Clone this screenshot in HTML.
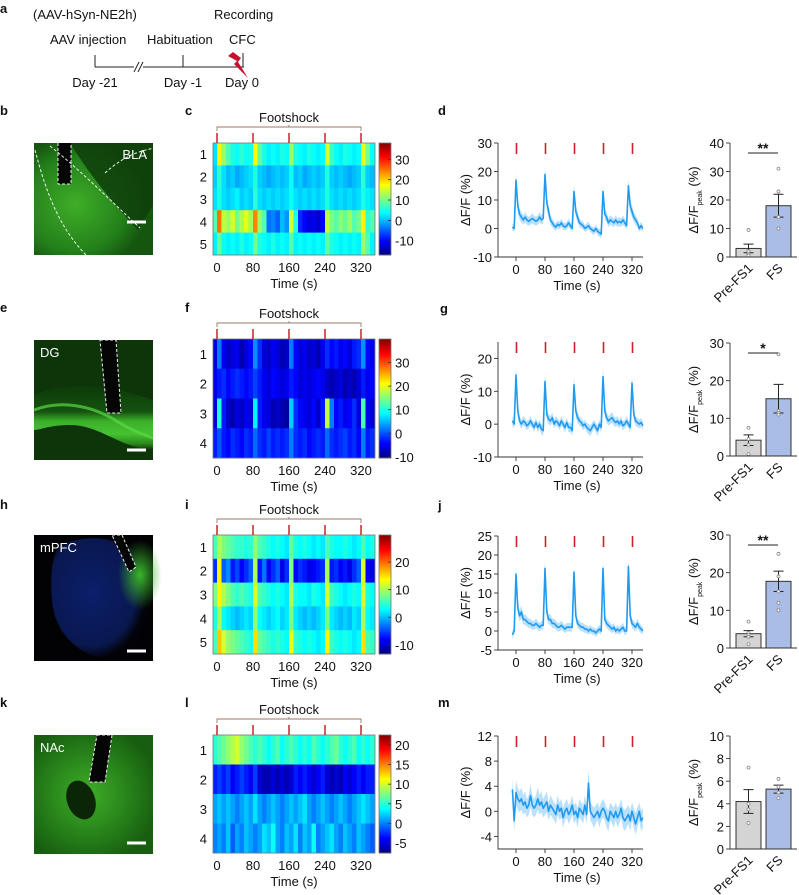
<!DOCTYPE html>
<html><head><meta charset="utf-8"><title>NE2h recordings during CFC</title>
<style>
html,body{margin:0;padding:0;background:#fff;}
svg{display:block;font-family:"Liberation Sans",Arial,sans-serif;}
</style></head>
<body>
<svg id="fig" width="799" height="895" viewBox="0 0 799 895" xmlns="http://www.w3.org/2000/svg">
<defs>
<radialGradient id="gB" cx="0.35" cy="0.55" r="0.6"><stop offset="0" stop-color="#3fae28"/><stop offset="0.7" stop-color="#23801a"/><stop offset="1" stop-color="#15560f"/></radialGradient>
<linearGradient id="gE" x1="0" y1="0" x2="0" y2="1"><stop offset="0" stop-color="#0c3a09"/><stop offset="0.4" stop-color="#15520f"/><stop offset="0.55" stop-color="#3bb02a"/><stop offset="0.75" stop-color="#46c232"/><stop offset="0.9" stop-color="#2b8a1c"/><stop offset="1" stop-color="#0d2f08"/></linearGradient>
<radialGradient id="gH" cx="0.4" cy="0.45" r="0.55"><stop offset="0" stop-color="#0b1e6a"/><stop offset="0.8" stop-color="#0a1850"/><stop offset="1" stop-color="#020208"/></radialGradient>
<radialGradient id="gHg" cx="0.5" cy="0.5" r="0.5"><stop offset="0" stop-color="#3ab52a"/><stop offset="1" stop-color="#3ab52a" stop-opacity="0"/></radialGradient>
<radialGradient id="gK" cx="0.45" cy="0.5" r="0.6"><stop offset="0" stop-color="#3fae28"/><stop offset="0.45" stop-color="#2c8c1d"/><stop offset="1" stop-color="#175e10"/></radialGradient>
</defs>
<g id="panelA" font-size="13" fill="#111">
<text x="0" y="13" font-weight="bold" font-size="13">a</text>
<text x="33" y="19">(AAV-hSyn-NE2h)</text>
<text x="214" y="19">Recording</text>
<text x="50" y="44">AAV injection</text>
<text x="147" y="44">Habituation</text>
<text x="229" y="44">CFC</text>
<line x1="95" y1="67" x2="244" y2="67" stroke="#222" stroke-width="1"/>
<line x1="95" y1="55" x2="95" y2="67" stroke="#222"/>
<line x1="183" y1="55" x2="183" y2="67" stroke="#222"/>
<line x1="243" y1="53" x2="243" y2="67" stroke="#222"/>
<rect x="134" y="62" width="9" height="10" fill="#fff"/>
<line x1="134" y1="72" x2="139" y2="62" stroke="#222"/>
<line x1="138" y1="72" x2="143" y2="62" stroke="#222"/>
<text x="95" y="87" text-anchor="middle">Day -21</text>
<text x="183" y="87" text-anchor="middle">Day -1</text>
<text x="242" y="87" text-anchor="middle">Day 0</text>
<polygon points="233,52 241,58 238,62 248,78 234,64 237,61 228,56" fill="#c8102e"/>
</g>
<g id="content"></g>
</svg>
<script>
// ---------- data ----------
var heatTimes = [0, 80, 160, 240, 320];
var timeTicks = [0, 80, 160, 240, 320];
var heatBinStart = -10, heatBinSize = 10;
// row c (BLA)
var c1 = [2,18,12,8,5,4,6,4,5,17,9,5,3,4,3,5,4,12,5,4,3,5,4,3,4,15,7,4,3,5,4,3,4,16,10,4];
var c2 = [1,6,2,0,1,-1,0,1,2,5,1,0,-1,0,1,0,1,4,0,1,-1,0,1,0,1,5,1,0,1,0,-1,0,1,6,1,0];
var c3 = [2,5,2,1,2,3,1,2,1,6,2,1,2,1,2,1,2,4,2,1,2,1,2,1,2,5,2,1,2,1,2,1,2,5,3,2];
var c4 = [8,25,14,12,15,10,13,16,12,24,12,8,-4,-3,-5,0,-2,15,5,-8,-10,-12,-11,-13,-10,14,10,8,11,9,12,8,10,18,6,8];
var c5 = [3,9,4,3,4,3,5,3,4,10,5,4,3,5,3,4,3,8,3,4,3,4,3,4,3,9,5,4,3,4,3,4,3,12,8,3];
var cTicks = [30,20,10,0,-10];
// row f (DG)
var f1 = [-6,2,-5,-7,-6,-5,-8,-6,-4,3,-2,-6,-7,-5,-6,-8,-7,2,-4,-6,-5,-7,-6,-8,-5,-2,-4,-3,-5,-4,-6,-3,-2,3,-4,-5];
var f2 = [-5,-3,-2,-4,-3,-2,-3,-4,-3,-1,-3,-5,-6,-4,-5,-6,-5,-3,-4,-6,-5,-6,-5,-4,-5,-7,-8,-7,-6,-8,-7,-8,-6,-3,-5,-4];
var f3 = [-6,10,-3,-7,-8,-6,-7,-5,-6,8,-3,-5,-6,-8,-7,-8,-9,6,-2,-4,-5,-6,-4,-7,-3,18,2,-4,-3,-5,-4,-2,-6,12,-5,-6];
var f4 = [-3,0,-3,-4,-2,-3,-4,-2,-3,1,-2,-3,-1,-3,-2,-3,-2,2,-2,-3,-2,-4,-3,-2,-3,1,-2,-3,-2,-1,-3,-2,-4,2,-3,-2];
var fTicks = [30,20,10,0,-10];
// row i (mPFC)
var i1 = [6,10,8,7,6,5,5,4,5,9,6,5,4,3,4,3,2,7,4,3,4,3,2,3,2,6,4,3,3,4,3,2,3,6,3,4];
var i2 = [-6,14,-4,-2,-7,-5,-8,-6,-4,10,-7,-3,-8,-6,-4,-9,-6,8,-8,-6,-7,-9,-8,-7,-6,10,-7,-6,-8,-7,-9,-6,-4,12,-8,-9];
var i3 = [8,14,10,8,6,5,6,5,4,12,6,5,4,3,4,3,2,10,4,3,3,2,4,3,2,12,5,4,3,2,3,4,3,12,4,3];
var i4 = [4,10,3,2,1,0,1,2,1,9,3,2,1,2,3,1,2,8,2,1,0,1,0,1,2,8,2,1,0,1,0,2,1,10,3,2];
var i5 = [6,16,12,9,8,7,6,5,4,15,7,6,5,4,5,4,3,13,5,4,3,4,3,2,3,14,5,4,3,4,3,2,3,15,6,5];
var iTicks = [20,10,0,-10];
// row l (NAc)
var l1 = [5,6,7,8,9,10,8,7,6,5,6,5,4,5,6,4,5,6,5,4,5,4,6,5,4,5,6,7,5,4,5,6,4,5,4,5];
var l2 = [-3,-2,-3,-2,-4,-3,-2,-3,-4,-2,-5,-6,-6,-5,-6,-5,-6,-5,-3,-4,-3,-4,-5,-4,-3,-5,-6,-5,-6,-4,-5,-4,-3,-4,-3,-3];
var l3 = [1,2,1,2,1,0,1,2,1,3,1,0,1,2,1,0,1,2,1,2,3,1,0,1,2,1,0,1,2,1,0,1,2,3,2,1];
var l4 = [0,1,0,2,-1,1,0,2,1,0,1,3,2,4,1,0,2,1,3,0,2,1,4,0,1,2,3,1,0,2,1,0,2,1,0,-1];
var lTicks = [20,15,10,5,0,-5];

// traces (t = -10..350 step 5)
var traceStart = -10, traceStep = 5;
var traceD = [0.5,0,17,8,5,4,3,4,3,2.5,3,3.5,3,2.5,3,4,3,3.5,19,9,6,3,2,1,0.5,1.5,1,2,1,0.5,1,2,1,0,13,6,4,2,1.5,1,0,0.5,1,0,-0.5,-1,0,-1,-1.5,-2,13,5,4,2,3,2.5,2,3,2,2.5,2,3,2,1,15,8,6,4,3,2,0,1,0];
var traceG = [1,0,15,4,1,0,1,0.5,-0.5,0,1,0,-1,0.5,-1,0,-1.5,-2,13,3,1.5,1,2,0,1,0.5,-0.5,1,0,-1,0.5,-1,-1,-2,12,4,2,1,0.5,-0.5,0,-1,-1.5,-2,-1,0,-1,-2,0,-1,14.5,4,2,1,1.5,2,1,0.5,1,0,1,-0.5,0,1,0,-1,12.5,3,1,0.5,0,0.5,-0.5];
var traceJ = [-1,0,15,6,4,5,3,3,2.5,2,2,1.5,1.5,2,1.5,1,1.5,1.5,16.5,5,3,3,2,2,1.5,1,1,1.5,1,0.5,1,1,1,1,15.5,4,2,1.5,1,1,0.5,0.5,0,0.5,0,0,-0.5,0,0.5,0,16.5,3,2,1.5,1,0.5,1,0,0.5,0,0.5,1,0,0,17,4,2,1.5,1,2,1,0.5,0];
var traceM = [3.5,-1.5,3,2,1.5,2,1,1.5,0.5,1,2.5,1,0.5,1,2,1,1.5,0.5,1,1.5,0,1,0.5,0,-0.5,1,0,0.5,-1,0,0.5,-0.5,0,1,-0.5,0,-1,0.5,0,-0.5,1,-0.5,4.5,0,-0.5,-1,-0.5,0,-1,0,0.5,0,-1,-1.5,0,-0.5,-1,0,-1,-0.5,0.5,-1,-1.5,-1,-0.5,-1.5,0,-1,-2,-1,0,-1.5,-1];
var bandD = 1.2, bandG = 1.3, bandJ = 1.0, bandM = 1.4;

// bar values
var barCats = ['Pre-FS1','FS'];
var barMeanB = [3, 18], barSemB = [1.5, 4], ptsPreB = [9.5,2,1,0.5,2], ptsFsB = [31,23,14,10,10];
var barMeanE = [4.2, 15.2], barSemE = [1.4, 3.8], ptsPreE = [7.5,4.5,0.5,3], ptsFsE = [27,12,11.5,11];
var barMeanH = [3.8, 17.7], barSemH = [0.8, 2.7], ptsPreH = [7,4,3.5,3,1], ptsFsH = [25,19,15,12,10];
var barMeanK = [4.2, 5.3], barSemK = [1.05, 0.35], ptsPreK = [7.2,4,2.3,3.5], ptsFsK = [6.2,5.5,5,4.5];

// ---------- drawing ----------
var NS = 'http://www.w3.org/2000/svg';
var root = document.getElementById('content');
function el(tag, attrs, parent) {
  var e = document.createElementNS(NS, tag);
  for (var k in attrs) e.setAttribute(k, attrs[k]);
  (parent || root).appendChild(e);
  return e;
}
function txt(s, x, y, attrs, parent) {
  var e = el('text', attrs || {}, parent);
  e.setAttribute('x', x); e.setAttribute('y', y);
  e.textContent = s;
  return e;
}
function cl(v){return Math.max(0, Math.min(1, v));}
function jet(v) {
  var r = cl(1.5 - Math.abs(4*v - 3)), g = cl(1.5 - Math.abs(4*v - 2)), b = cl(1.5 - Math.abs(4*v - 1));
  return 'rgb(' + Math.round(r*255) + ',' + Math.round(g*255) + ',' + Math.round(b*255) + ')';
}

function panelLabel(s, x, y) {
  var t = txt(s, x, y, {'font-size': '13', 'font-weight': 'bold', fill: '#111'});
  
  
}

// heatmap
var hx0 = 213, hx1 = 375, hxs = 0.45, hxZero = 217;
function hx(t){ return hxZero + t * hxs; }
function heatmap(id, rows, top, bot, vmin, vmax, ticks) {
  var g = el('g', {});
  
  
  var rh = (bot - top) / rows.length;
  rows.forEach(function(row, r) {
    row.forEach(function(v, b) {
      var t0 = heatBinStart + b * heatBinSize;
      var x0 = Math.max(hx0, hx(t0)), x1 = Math.min(hx1, hx(t0 + heatBinSize));
      var c = el('rect', {x: x0, y: top + r*rh, width: x1 - x0 + 0.4, height: rh + 0.4, fill: jet((v - vmin)/(vmax - vmin))}, g);
      
      
    });
    var lab = txt(String(r+1), 207, top + (r+0.5)*rh + 5, {'font-size': '13', 'text-anchor': 'end', fill: '#111'}, g);
    
    
  });
  el('rect', {x: hx0, y: top, width: hx1 - hx0, height: bot - top, fill: 'none', stroke: '#777', 'stroke-width': '0.8'}, g);
  timeTicks.forEach(function(t) {
    var l = txt(String(t), hx(t), bot + 17, {'font-size': '13', 'text-anchor': 'middle', fill: '#111'}, g);
    
    
  });
  var xt = txt('Time (s)', 294, bot + 33, {'font-size': '13', 'text-anchor': 'middle', fill: '#111'}, g);
  
  
  var by = top - 16;
  el('path', {d: 'M' + hx(0) + ' ' + (by+4) + ' V' + by + ' H' + hx(320) + ' V' + (by+4) + ' M' + hx(160) + ' ' + by + ' v-2', fill: 'none', stroke: '#9a7a6a', 'stroke-width': '0.9'}, g);
  var ft = txt('Footshock', hx(160), by - 5, {'font-size': '13', 'text-anchor': 'middle', fill: '#111'}, g);
  
  
  heatTimes.forEach(function(t) {
    var m = el('line', {x1: hx(t), x2: hx(t), y1: top - 10, y2: top, stroke: '#d0202a', 'stroke-width': '1.5'}, g);
    
    
  });
  var cb = el('g', {}, g);
  
  
  var n = 60, ch = (bot - top) / n;
  for (var k = 0; k < n; k++) {
    el('rect', {x: 379, y: top + k*ch, width: 12, height: ch + 0.4, fill: jet(1 - (k + 0.5)/n)}, cb);
  }
  el('rect', {x: 379, y: top, width: 12, height: bot - top, fill: 'none', stroke: '#777', 'stroke-width': '0.8'}, cb);
  ticks.forEach(function(v) {
    var y = top + (vmax - v) / (vmax - vmin) * (bot - top);
    el('line', {x1: 388, x2: 391, y1: y, y2: y, stroke: '#333', 'stroke-width': '0.8'}, cb);
    var l = txt(String(v), 395, y + 5, {'font-size': '13', fill: '#111'}, cb);
    
    
  });
}

// line chart
var lxZero = 516, lxs = 0.3625;
function lx(t){ return lxZero + t * lxs; }
function lineChart(id, data, band, top, bot, ymin, ymax, ticks) {
  var g = el('g', {});
  
  
  function ly(v){ return bot - (v - ymin) / (ymax - ymin) * (bot - top); }
  var up = [], dn = [], mid = [];
  data.forEach(function(v, i) {
    var t = traceStart + i * traceStep;
    var w = band * (1 + Math.min(1, Math.abs(v) / 8));
    up.push(lx(t).toFixed(1) + ',' + ly(v + w).toFixed(1));
    dn.unshift(lx(t).toFixed(1) + ',' + ly(v - w).toFixed(1));
    mid.push(lx(t).toFixed(1) + ',' + ly(v).toFixed(1));
  });
  var bd = el('polygon', {points: up.concat(dn).join(' '), fill: '#a9d8fb', opacity: '0.8'}, g);
  
  
  var ln = el('polyline', {points: mid.join(' '), fill: 'none', stroke: '#1e9bf0', 'stroke-width': '1.6', 'stroke-linejoin': 'round'}, g);
  
  
  var ax = el('path', {d: 'M498 ' + top + ' V' + bot + ' H643', fill: 'none', stroke: '#333', 'stroke-width': '0.9'}, g);
  
  
  ticks.forEach(function(v) {
    var y = ly(v);
    el('line', {x1: 494, x2: 498, y1: y, y2: y, stroke: '#333', 'stroke-width': '0.9'}, g);
    var l = txt(String(v), 492, y + 5, {'font-size': '13', 'text-anchor': 'end', fill: '#111'}, g);
    
    
  });
  timeTicks.forEach(function(t) {
    el('line', {x1: lx(t), x2: lx(t), y1: bot, y2: bot + 4, stroke: '#333', 'stroke-width': '0.9'}, g);
    var l = txt(String(t), lx(t), bot + 17, {'font-size': '13', 'text-anchor': 'middle', fill: '#111'}, g);
    
    
  });
  var xt = txt('Time (s)', 577, bot + 33, {'font-size': '13', 'text-anchor': 'middle', fill: '#111'}, g);
  
  
  var yt = txt('\u0394F/F (%)', 0, 0, {'font-size': '13', 'text-anchor': 'middle', fill: '#111', transform: 'translate(470,' + ((top+bot)/2) + ') rotate(-90)'}, g);
  
  
  heatTimes.forEach(function(t) {
    var m = el('line', {x1: lx(t) + 0.5, x2: lx(t) + 0.5, y1: top, y2: top + 11, stroke: '#d0202a', 'stroke-width': '1.6'}, g);
    
    
  });
}

// bar chart
var bAxisX = 730;
function barChart(id, means, sems, pre, fs, top, bot, ymax, step, sig) {
  var g = el('g', {});
  
  
  function by(v){ return bot - v / ymax * (bot - top); }
  var xs = [736, 766], bw = 25, fills = ['#d4d4d4', '#aabde6'];
  means.forEach(function(m, i) {
    var r = el('rect', {x: xs[i], y: by(m), width: bw, height: bot - by(m), fill: fills[i], stroke: '#333', 'stroke-width': '1'}, g);
    
    
    var cx = xs[i] + bw/2;
    var eb = el('path', {d: 'M' + cx + ' ' + by(m - sems[i]) + ' V' + by(m + sems[i]) + ' M' + (cx-5) + ' ' + by(m - sems[i]) + ' h10 M' + (cx-5) + ' ' + by(m + sems[i]) + ' h10', stroke: '#222', 'stroke-width': '1', fill: 'none'}, g);
    
    
    (i === 0 ? pre : fs).forEach(function(p) {
      var c = el('circle', {cx: cx, cy: by(p), r: 1.5, fill: '#fff', stroke: '#888', 'stroke-width': '0.8'}, g);
      
      
    });
    var l = txt(barCats[i], 0, 0, {'font-size': '13', 'text-anchor': 'end', fill: '#111', transform: 'translate(' + (cx + 5) + ',' + (bot + 12) + ') rotate(-45)'}, g);
    
    
  });
  var ax = el('path', {d: 'M' + bAxisX + ' ' + top + ' V' + bot + ' H797', fill: 'none', stroke: '#333', 'stroke-width': '0.9'}, g);
  
  
  for (var v = 0; v <= ymax + 1e-9; v += step) {
    var y = by(v);
    el('line', {x1: bAxisX - 4, x2: bAxisX, y1: y, y2: y, stroke: '#333', 'stroke-width': '0.9'}, g);
    var l = txt(String(v), bAxisX - 6, y + 5, {'font-size': '13', 'text-anchor': 'end', fill: '#111'}, g);
    
    
  }
  var yt = el('text', {'font-size': '13', 'text-anchor': 'middle', fill: '#111', transform: 'translate(698,' + ((top+bot)/2) + ') rotate(-90)'}, g);
  
  
  yt.innerHTML = '\u0394F/F<tspan font-size="7" dy="4">peak</tspan><tspan dy="-4"> (%)</tspan>';
  if (sig) {
    var sl = el('line', {x1: 748, x2: 778, y1: top + 10, y2: top + 10, stroke: '#222', 'stroke-width': '0.9'}, g);
    
    
    var st = txt(sig, 763, top + 10, {'font-size': '14', 'font-weight': 'bold', 'text-anchor': 'middle', fill: '#111'}, g);
    
    
  }
}

panelLabel('b', 0, 115); panelLabel('c', 185, 115); panelLabel('d', 438, 115);
panelLabel('e', 0, 312); panelLabel('f', 185, 312); panelLabel('g', 440, 313);
panelLabel('h', 0, 509); panelLabel('i', 185, 509); panelLabel('j', 438, 510);
panelLabel('k', 0, 707); panelLabel('l', 185, 707); panelLabel('m', 438, 707);

heatmap('bla', [c1,c2,c3,c4,c5], 143, 255, -17, 38, cTicks);
heatmap('dg', [f1,f2,f3,f4], 339, 458, -10.5, 40, fTicks);
heatmap('mpfc', [i1,i2,i3,i4,i5], 535, 654, -13.3, 29.8, iTicks);
heatmap('nac', [l1,l2,l3,l4], 735, 853, -7.5, 22.5, lTicks);

lineChart('bla', traceD, bandD, 143, 257, -10, 30, [30,20,10,0,-10]);
lineChart('dg', traceG, bandG, 342, 457, -10, 25, [20,10,0,-10]);
lineChart('mpfc', traceJ, bandJ, 536, 650, -5, 25, [25,20,15,10,5,0,-5]);
lineChart('nac', traceM, bandM, 736, 849, -6, 12, [12,8,4,0,-4]);

barChart('bla', barMeanB, barSemB, ptsPreB, ptsFsB, 143, 257, 40, 10, '**');
barChart('dg', barMeanE, barSemE, ptsPreE, ptsFsE, 343, 456, 30, 10, '*');
barChart('mpfc', barMeanH, barSemH, ptsPreH, ptsFsH, 535, 648, 30, 10, '**');
barChart('nac', barMeanK, barSemK, ptsPreK, ptsFsK, 736, 849, 10, 2, '');

function micro(name) {
  var g = el('g', {});
  
  
  return g;
}
var W = 'stroke="#eee" stroke-dasharray="3,2" stroke-width="1" fill="none"';
var gb = micro('bla-image');
gb.innerHTML = '<rect x="34" y="143" width="119" height="112" fill="url(#gB)"/>' +
 '<path d="M70 143 L153 143 L153 205 L138 230 C110 200 90 175 70 143Z" fill="#0e3e0a" opacity="0.85"/>' +
 '<rect x="58" y="143" width="13" height="41" fill="#050505"/>' +
 '<path d="M58 143 V184 H71 V143" ' + W + '/>' +
 '<path d="M35 150 C48 200 62 230 86 255" ' + W + '/><path d="M50 146 C80 170 110 200 140 228" ' + W + '/>' +
 '<path d="M105 173 C130 150 150 150 153 148" ' + W + '/>' +
 '<line x1="127" y1="222" x2="146" y2="222" stroke="#fff" stroke-width="3"/>' +
 '<text x="147" y="159" font-size="13" fill="#fff" text-anchor="end">BLA</text>';
var ge = micro('dg-image');
ge.innerHTML = '<rect x="34" y="340" width="119" height="120" fill="#0d3509"/>' +
 '<path d="M34 395 C70 380 110 385 153 400 L153 450 C120 448 100 425 70 425 C50 425 40 430 34 430Z" fill="url(#gE)"/>' +
 '<path d="M34 410 C60 400 90 405 115 420 C130 430 145 435 153 438" stroke="#5ad845" stroke-width="3" fill="none" opacity="0.7"/>' +
 '<polygon points="100,340 116,340 121,413 107,413" fill="#050505"/>' +
 '<polygon points="100,340 116,340 121,413 107,413" ' + W + '/>' +
 '<line x1="127" y1="450" x2="146" y2="450" stroke="#fff" stroke-width="3"/>' +
 '<text x="40" y="357" font-size="13" fill="#fff">DG</text>';
var gh = micro('mpfc-image');
gh.innerHTML = '<rect x="34" y="535" width="119" height="126" fill="#020204"/>' +
 '<path d="M60 545 C95 530 140 540 150 570 C155 610 140 650 120 658 C90 664 55 640 52 600 C50 575 52 555 60 545Z" fill="url(#gH)"/>' +
 '<ellipse cx="140" cy="575" rx="22" ry="35" fill="url(#gHg)"/>' +
 '<polygon points="112,535 122,535 136,567 129,572" fill="#050505"/>' +
 '<polygon points="112,535 122,535 136,567 129,572" ' + W + '/>' +
 '<line x1="127" y1="651" x2="146" y2="651" stroke="#fff" stroke-width="3"/>' +
 '<text x="40" y="552" font-size="13" fill="#fff">mPFC</text>';
var gk = micro('nac-image');
gk.innerHTML = '<rect x="34" y="735" width="119" height="119" fill="url(#gK)"/>' +
 '<ellipse cx="81" cy="800" rx="14" ry="20" transform="rotate(-20 81 800)" fill="#0a2607"/>' +
 '<polygon points="97,735 112,735 105,782 89,782" fill="#050505"/>' +
 '<polygon points="97,735 112,735 105,782 89,782" ' + W + '/>' +
 '<line x1="127" y1="843" x2="146" y2="843" stroke="#fff" stroke-width="3"/>' +
 '<text x="40" y="752" font-size="13" fill="#fff">NAc</text>';
</script>
</body></html>
